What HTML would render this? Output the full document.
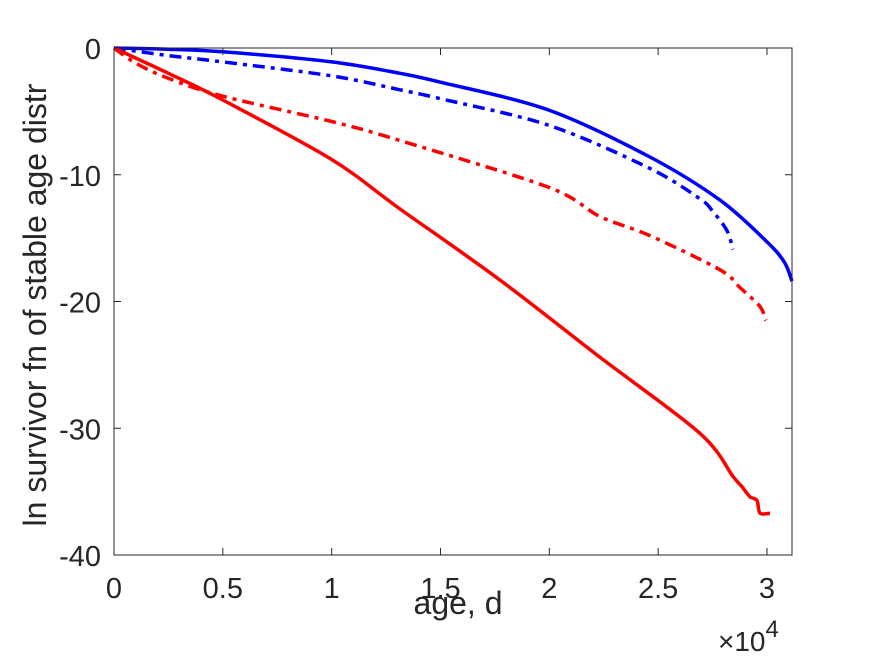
<!DOCTYPE html>
<html><head><meta charset="utf-8"><style>
body{margin:0;background:#fff}
svg text{font-family:"Liberation Sans",sans-serif;fill:#262626}
</style></head><body>
<svg id="chart" width="875" height="656" viewBox="0 0 875 656" xmlns="http://www.w3.org/2000/svg">
<rect x="0" y="0" width="875" height="656" fill="#fff"/>
<g id="marks"></g>
<g id="axes"></g>
</svg>
<script>
const xTicks=[0,0.5,1,1.5,2,2.5,3];
const xTickLabels=["0","0.5","1","1.5","2","2.5","3"];
const yTicks=[0,-10,-20,-30,-40];
const yTickLabels=["0","-10","-20","-30","-40"];
const blueSolidX=[0,0.25,0.5,1,1.314,1.5,1.998,2.462,2.784,3.0,3.08,3.115];
const blueSolidY=[0,-0.1,-0.3,-1.1,-2.0,-2.7,-4.9,-8.6,-12.0,-15.3,-16.9,-18.4];
const blueDashX=[0,0.25,0.5,1,1.314,1.5,1.998,2.462,2.692,2.747,2.816,2.844];
const blueDashY=[0,-0.6,-1.1,-2.2,-3.3,-4.0,-6.1,-9.5,-11.9,-12.8,-14.4,-15.9];
const redDashX=[0,0.1,0.25,0.5,1,1.314,1.998,2.233,2.462,2.784,2.876,2.968,2.995];
const redDashY=[0,-1.2,-2.4,-3.8,-5.8,-7.3,-11.0,-13.3,-14.8,-17.5,-18.9,-20.4,-21.5];
const redSolidX=[0,0.25,0.5,1,1.314,1.773,2.233,2.692,2.844,2.885,2.921,2.954,2.968,3.014];
const redSolidY=[0,-2.0,-4.1,-8.8,-12.7,-18.3,-24.4,-30.4,-33.8,-34.6,-35.4,-35.7,-36.7,-36.7];

const X0=114,X1=792,Y0=48,Y1=555,XMAX=3.115;
const sx=v=>X0+v/XMAX*(X1-X0);
const sy=v=>Y0+(-v)/40*(Y1-Y0);
const NS="http://www.w3.org/2000/svg";
const marks=document.getElementById('marks'),axes=document.getElementById('axes');
function mk(t,a,p){const e=document.createElementNS(NS,t);for(const k in a)e.setAttribute(k,a[k]);p.appendChild(e);return e;}
function smoothPath(xs,ys){
  const P=xs.map((x,i)=>[sx(x),sy(ys[i])]);
  let d='M'+P[0][0].toFixed(1)+','+P[0][1].toFixed(1);
  for(let i=0;i<P.length-1;i++){
    const p0=P[Math.max(0,i-1)],p1=P[i],p2=P[i+1],p3=P[Math.min(P.length-1,i+2)];
    const t=0.16;
    const c1=[p1[0]+(p2[0]-p0[0])*t,p1[1]+(p2[1]-p0[1])*t];
    const c2=[p2[0]-(p3[0]-p1[0])*t,p2[1]-(p3[1]-p1[1])*t];
    d+=' C'+c1.map(v=>v.toFixed(1)).join(',')+' '+c2.map(v=>v.toFixed(1)).join(',')+' '+p2.map(v=>v.toFixed(1)).join(',');
  }
  return d;
}
function series(xs,ys,color,dash,name){
  const p=mk('path',{d:smoothPath(xs,ys),fill:'none',stroke:color,'stroke-width':3.5,'stroke-linejoin':'round'},marks);
  if(dash)p.setAttribute('stroke-dasharray',dash);
  
  
}
series(blueSolidX,blueSolidY,'#0000ff',null,'blue-solid-line');
series(blueDashX,blueDashY,'#0000ff','12,6,4,6','blue-dashdot-line');
series(redDashX,redDashY,'#ff0000','12,6,4,6','red-dashdot-line');
series(redSolidX,redSolidY,'#ff0000',null,'red-solid-line');

const box=mk('rect',{x:X0,y:Y0,width:X1-X0,height:Y1-Y0,fill:'none',stroke:'#262626','stroke-width':1},axes);


xTicks.forEach((t,i)=>{
  const x=sx(t);
  mk('line',{x1:x,x2:x,y1:Y1,y2:Y1-7,stroke:'#262626'},axes);
  mk('line',{x1:x,x2:x,y1:Y0,y2:Y0+7,stroke:'#262626'},axes);
  const tx=mk('text',{x:x,y:598,'font-size':29,'text-anchor':'middle'},axes);
  tx.textContent=xTickLabels[i];
  
  
});
yTicks.forEach((t,i)=>{
  const y=sy(t);
  mk('line',{x1:X0,x2:X0+7,y1:y,y2:y,stroke:'#262626'},axes);
  mk('line',{x1:X1,x2:X1-7,y1:y,y2:y,stroke:'#262626'},axes);
  const tx=mk('text',{x:X0-13,y:y+11,'font-size':29,'text-anchor':'end'},axes);
  tx.textContent=yTickLabels[i];
  
  
});
const xl=mk('text',{x:458,y:614,'font-size':32,'text-anchor':'middle'},axes);
xl.textContent='age, d';


const yl=mk('text',{x:0,y:0,'font-size':32,'text-anchor':'middle',transform:'translate(46,305) rotate(-90)'},axes);
yl.textContent='ln survivor fn of stable age distr';


const ex=mk('text',{x:718,y:651,'font-size':28},axes);
ex.innerHTML='×10<tspan dy="-14" font-size="24">4</tspan>';


</script>
</body></html>
